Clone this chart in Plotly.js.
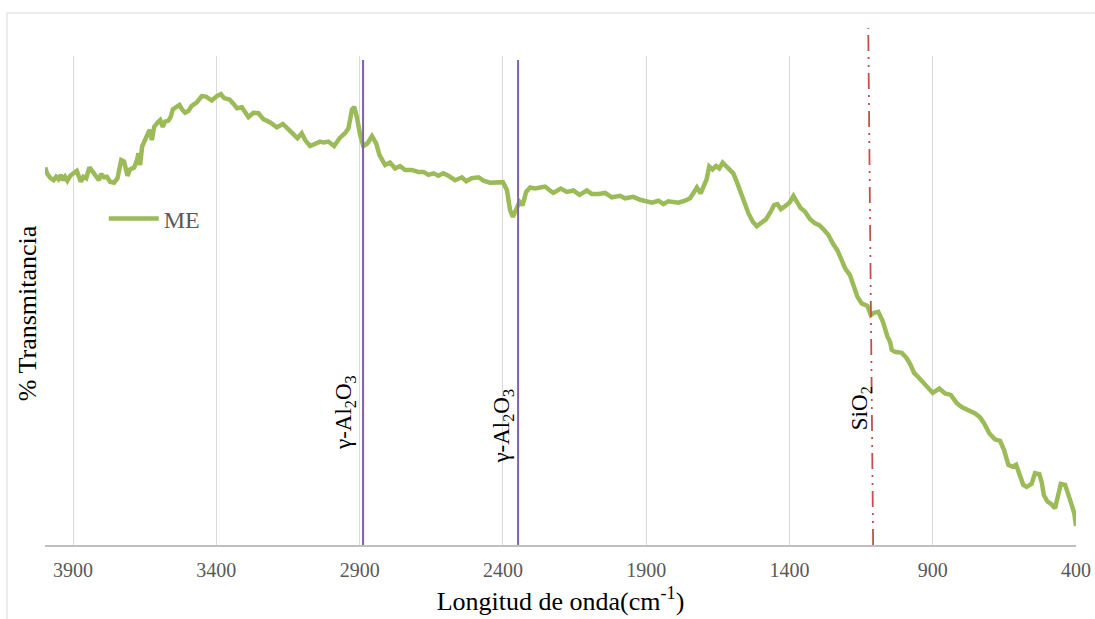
<!DOCTYPE html>
<html>
<head>
<meta charset="utf-8">
<script src="https://cdn.plot.ly/plotly-3.0.1.min.js"></script>
<style>html,body{margin:0;padding:0;background:#fff;}#chart{width:1095px;height:619px;}</style>
</head>
<body>
<div id="chart"></div>
<script>
// Wavenumber (cm-1) and % transmittance
const wavenumber = [3997,3991,3980,3968,3959,3951,3943,3936,3928,3920,3910,3899,3887,3873,3864,3854,3843,3831,3819,3810,3802,3792,3782,3771,3757,3745,3732,3722,3710,3701,3687,3677,3672,3666,3659,3648,3640,3633,3625,3617,3605,3596,3587,3579,3567,3559,3552,3540,3529,3520,3509,3497,3486,3468,3451,3436,3416,3398,3384,3373,3354,3340,3328,3311,3300,3288,3271,3253,3236,3212,3189,3168,3152,3131,3117,3102,3090,3073,3055,3038,3026,3009,2989,2970,2951,2939,2927,2919,2910,2898,2887,2873,2857,2842,2831,2811,2794,2776,2759,2741,2718,2695,2677,2660,2642,2625,2608,2590,2567,2543,2528,2509,2485,2468,2445,2421,2400,2386,2375,2365,2354,2342,2331,2319,2305,2288,2270,2253,2238,2224,2198,2177,2154,2133,2107,2090,2067,2043,2020,1991,1974,1945,1921,1898,1880,1857,1840,1823,1805,1788,1764,1747,1735,1723,1710,1698,1689,1680,1668,1656,1645,1633,1621,1607,1596,1584,1572,1558,1543,1528,1514,1500,1482,1465,1454,1442,1430,1415,1400,1386,1375,1361,1346,1328,1311,1296,1282,1264,1249,1233,1218,1206,1189,1175,1163,1148,1128,1116,1105,1090,1074,1058,1049,1043,1032,1008,991,977,965,950,933,915,900,877,857,837,816,799,776,752,735,721,702,683,665,651,636,621,609,598,584,572,555,543,528,520,512,500,487,473,462,453,438,427,415,406,400];
const transmittance = [77.2,76.0,75.1,74.6,75.3,74.8,75.7,74.6,75.3,74.5,75.5,75.9,76.5,74.3,75.3,75.0,77.2,76.3,75.3,74.6,75.9,75.2,75.3,74.3,74.1,75.0,78.7,78.4,75.5,76.8,77.2,78.7,80.1,77.7,81.5,82.8,84.2,84.9,82.8,85.5,86.4,86.9,85.5,86.6,86.8,87.6,89.1,89.6,90.0,89.1,88.4,88.8,89.8,90.5,91.8,91.7,90.9,91.8,92.2,91.4,91.1,90.2,89.3,89.5,88.6,87.5,88.4,88.3,87.1,86.4,85.4,86.1,85.2,83.8,83.2,84.2,82.8,81.6,82.1,82.5,82.3,82.5,81.6,83.2,84.2,85.2,89.0,89.6,87.6,83.8,81.6,82.1,83.6,82.1,79.8,77.7,78.2,77.0,77.5,76.7,76.7,76.3,76.3,75.7,76.0,75.5,76.0,75.5,74.6,75.2,74.4,75.0,75.2,74.5,74.1,74.1,74.2,72.6,68.5,67.1,68.9,70.2,69.5,72.2,73.1,72.9,73.1,73.3,72.6,72.0,72.9,72.2,72.5,71.6,72.5,71.8,71.8,72.0,71.1,71.4,70.9,71.2,70.6,70.2,70.0,70.4,69.7,70.3,70.1,70.0,70.4,70.9,72.0,73.1,71.9,73.6,74.8,77.4,76.8,77.5,77.0,78.2,77.5,76.8,76.0,74.3,72.6,70.2,67.8,66.1,65.2,65.9,66.6,68.2,69.5,69.7,68.7,69.3,70.0,71.4,70.4,68.9,68.2,66.6,65.8,65.4,64.6,63.4,61.7,60.3,58.3,56.6,55.2,52.8,50.8,49.4,48.9,47.0,47.5,47.7,45.7,42.6,41.6,39.9,39.5,39.3,38.2,36.8,35.2,34.3,33.2,31.8,31.1,32.0,31.0,30.7,29.0,28.2,27.5,26.9,26.1,24.9,22.8,21.6,21.3,19.4,16.4,16.0,16.4,14.7,12.3,11.9,12.5,14.7,14.5,12.9,10.2,8.9,8.4,7.5,10.0,12.5,12.3,10.6,8.2,6.5,3.9];
const tickValues = [3900,3400,2900,2400,1900,1400,900,400];
const tickLabels = ["3900","3400","2900","2400","1900","1400","900","400"];
const seriesName = "ME";
// Reference band markers
const bandLabels = ["γ-Al<sub>2</sub>O<sub>3</sub>","γ-Al<sub>2</sub>O<sub>3</sub>","SiO<sub>2</sub>"];
const bandPositions = [2888, 2347, 1116];

const serif = "Liberation Serif";

const trace = {
  x: wavenumber, y: transmittance, type: 'scatter', mode: 'lines', name: seriesName,
  line: {color: '#9BBB59', width: 4.5}
};

const shapes = [
  {type:'rect', xref:'paper', yref:'paper', x0:-0.0369, x1:1.03, y0:-0.17, y1:1.088,
   line:{color:'#D9D9D9', width:1}, fillcolor:'rgba(0,0,0,0)', layer:'below'},
  {type:'line', xref:'x', yref:'paper', x0:bandPositions[0], x1:bandPositions[0], y0:0, y1:0.992,
   line:{color:'#7F62A8', width:2}, layer:'above'},
  {type:'line', xref:'x', yref:'paper', x0:bandPositions[1], x1:bandPositions[1], y0:0, y1:0.992,
   line:{color:'#7F62A8', width:2}, layer:'above'},
  {type:'line', xref:'x', yref:'paper', x0:bandPositions[2]-8, x1:bandPositions[2]+9, y0:0, y1:1.057,
   line:{color:'#C0504D', width:1.8, dash:'16px,6px,2px,6px,2px,6px'}, layer:'above'}
];

const annotations = [
  {text:'% Transmitancia', xref:'paper', yref:'paper', x:-0.0175, y:0.474, textangle:-90,
   showarrow:false, xanchor:'center', yanchor:'middle', font:{family:serif, size:26, color:'#000'}},
  {text:bandLabels[0], xref:'x', yref:'paper', x:2951, y:0.270, textangle:-90, showarrow:false,
   xanchor:'center', yanchor:'middle', font:{family:serif, size:23, color:'#000'}},
  {text:bandLabels[1], xref:'x', yref:'paper', x:2400, y:0.244, textangle:-90, showarrow:false,
   xanchor:'center', yanchor:'middle', font:{family:serif, size:23, color:'#000'}},
  {text:bandLabels[2], xref:'x', yref:'paper', x:1150, y:0.280, textangle:-90, showarrow:false,
   xanchor:'center', yanchor:'middle', font:{family:serif, size:23, color:'#000'}}
];

const layout = {
  width:1095, height:619,
  margin:{l:45, r:19, t:56, b:74, pad:0},
  paper_bgcolor:'#fff', plot_bgcolor:'#fff',
  font:{family:serif},
  showlegend:true,
  legend:{x:0.057, y:0.667, xanchor:'left', yanchor:'middle', bgcolor:'rgba(0,0,0,0)',
          font:{family:serif, size:24, color:'#595959'}, itemwidth:50},
  xaxis:{
    range:[3998, 400], tickmode:'array', tickvals:tickValues, ticktext:tickLabels,
    showgrid:true, gridcolor:'#D9D9D9', gridwidth:1, zeroline:false,
    showline:true, linecolor:'#BFBFBF', linewidth:1.5, ticks:'',
    tickfont:{family:serif, size:20, color:'#595959'}, ticklabelstandoff:6,
    title:{text:'Longitud de onda(cm<sup>-1</sup>)', font:{family:serif, size:26, color:'#000'}, standoff:12},
    automargin:false
  },
  yaxis:{
    range:[0,100], showgrid:false, zeroline:false, showline:false, showticklabels:false, ticks:'',
    automargin:false
  },
  shapes:shapes,
  annotations:annotations
};

Plotly.newPlot('chart', [trace], layout, {displayModeBar:false, staticPlot:true});
</script>
</body>
</html>
